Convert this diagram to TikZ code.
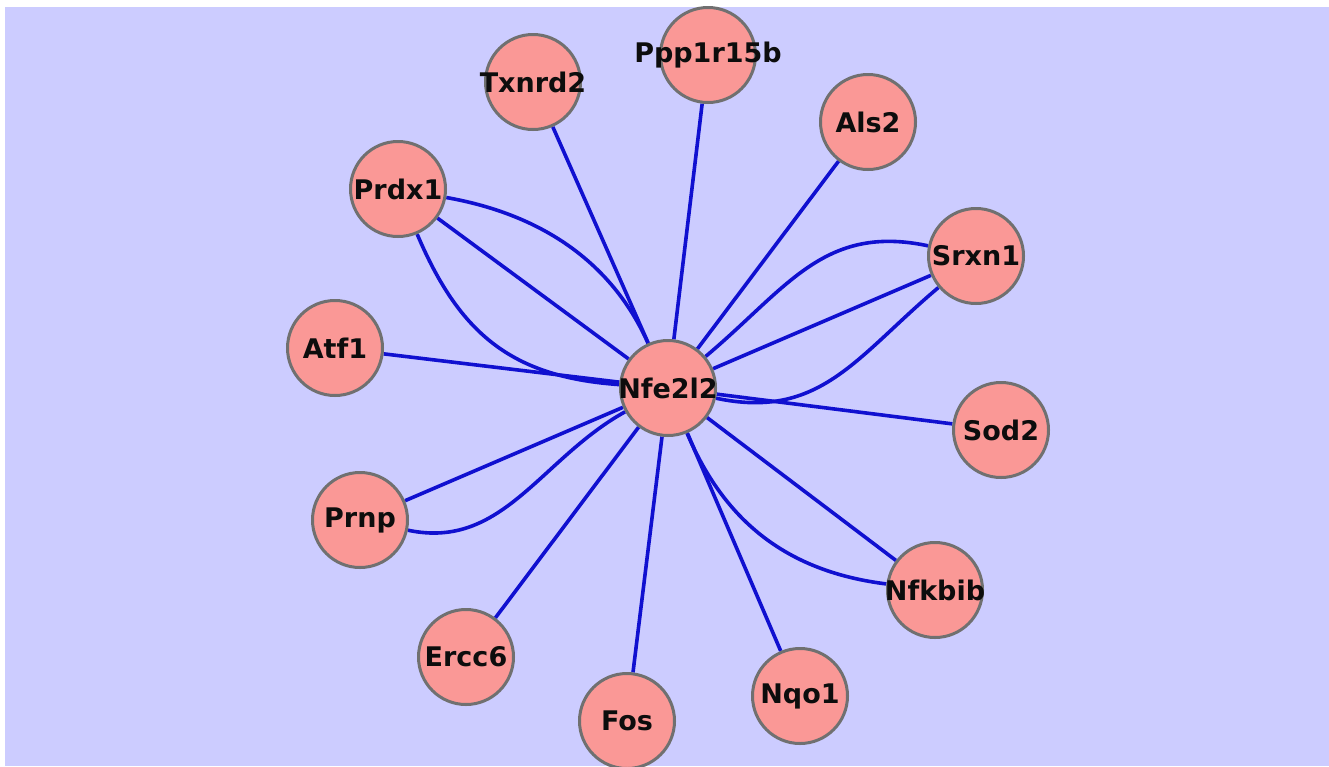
\documentclass[tikz,border=0pt]{standalone}
\usepackage{fontspec}
\setmainfont{DejaVu Sans}
\definecolor{canvas}{RGB}{204,204,255}
\definecolor{genefill}{RGB}{250,152,150}
\definecolor{generim}{RGB}{112,112,112}
\definecolor{linkblue}{RGB}{16,16,208}
\pgfdeclarelayer{bg}
\pgfsetlayers{bg,main}
% gene names may run past the circle without enlarging it
\newcommand\gname[1]{\makebox[0pt][c]{#1}}
\tikzset{
  gene/.style={circle, draw=generim, line width=3pt, fill=genefill,
    minimum size=95pt, inner sep=0pt, text=black!95,
    font=\fontsize{27}{30}\selectfont\bfseries},
  link/.style={draw=linkblue, line width=3.6pt}
}
\begin{document}
\begin{tikzpicture}[x=1pt,y=-1pt]
\useasboundingbox (0,0) rectangle (1329,766);
\begin{pgfonlayer}{bg}
  \fill[white] (0,0) rectangle (1329,766);
  \fill[canvas] (5,7) rectangle (1329,766);
\end{pgfonlayer}

% genes
\node[gene] (nfe)   at (668,388) {\gname{Nfe2l2}};
\node[gene] (txn)   at (533,82)  {\gname{Txnrd2}};
\node[gene] (ppp)   at (708,55)  {\gname{Ppp1r15b}};
\node[gene] (als)   at (868,122) {\gname{Als2}};
\node[gene] (prdx)  at (398,189) {\gname{Prdx1}};
\node[gene] (srxn)  at (976,256) {\gname{Srxn1}};
\node[gene] (atf)   at (335,348) {\gname{Atf1}};
\node[gene] (sod)   at (1001,430) {\gname{Sod2}};
\node[gene] (prnp)  at (360,520) {\gname{Prnp}};
\node[gene] (nfk)   at (935,590) {\gname{Nfkbib}};
\node[gene] (ercc)  at (466,657) {\gname{Ercc6}};
\node[gene] (fos)   at (627,721) {\gname{Fos}};
\node[gene] (nqo)   at (800,696) {\gname{Nqo1}};

% interactions
\begin{pgfonlayer}{bg}
  \draw[link] (txn) -- (nfe);
  \draw[link] (ppp) -- (nfe);
  \draw[link] (als) -- (nfe);
  \draw[link] (atf) -- (nfe);
  \draw[link] (sod) -- (nfe);
  \draw[link] (ercc) -- (nfe);
  \draw[link] (fos) -- (nfe);
  \draw[link] (nqo) -- (nfe);
  \draw[link] (prdx) -- (nfe);
  \draw[link] (prdx) to[out=-10, in=114, looseness=0.95] (nfe);
  \draw[link] (prdx) to[out=-67, in=176, looseness=1.1] (nfe);
  \draw[link] (srxn) -- (nfe);
  \draw[link] (srxn) to[out=168, in=40, looseness=1.1] (nfe);
  \draw[link] (srxn) to[out=220, in=-12, looseness=1.1] (nfe);
  \draw[link] (prnp) -- (nfe);
  \draw[link] (prnp) to[out=-12, in=209, looseness=1] (nfe);
  \draw[link] (nfk) -- (nfe);
  \draw[link] (nfk) to[bend left=30] (nfe);
\end{pgfonlayer}
\end{tikzpicture}
\end{document}
